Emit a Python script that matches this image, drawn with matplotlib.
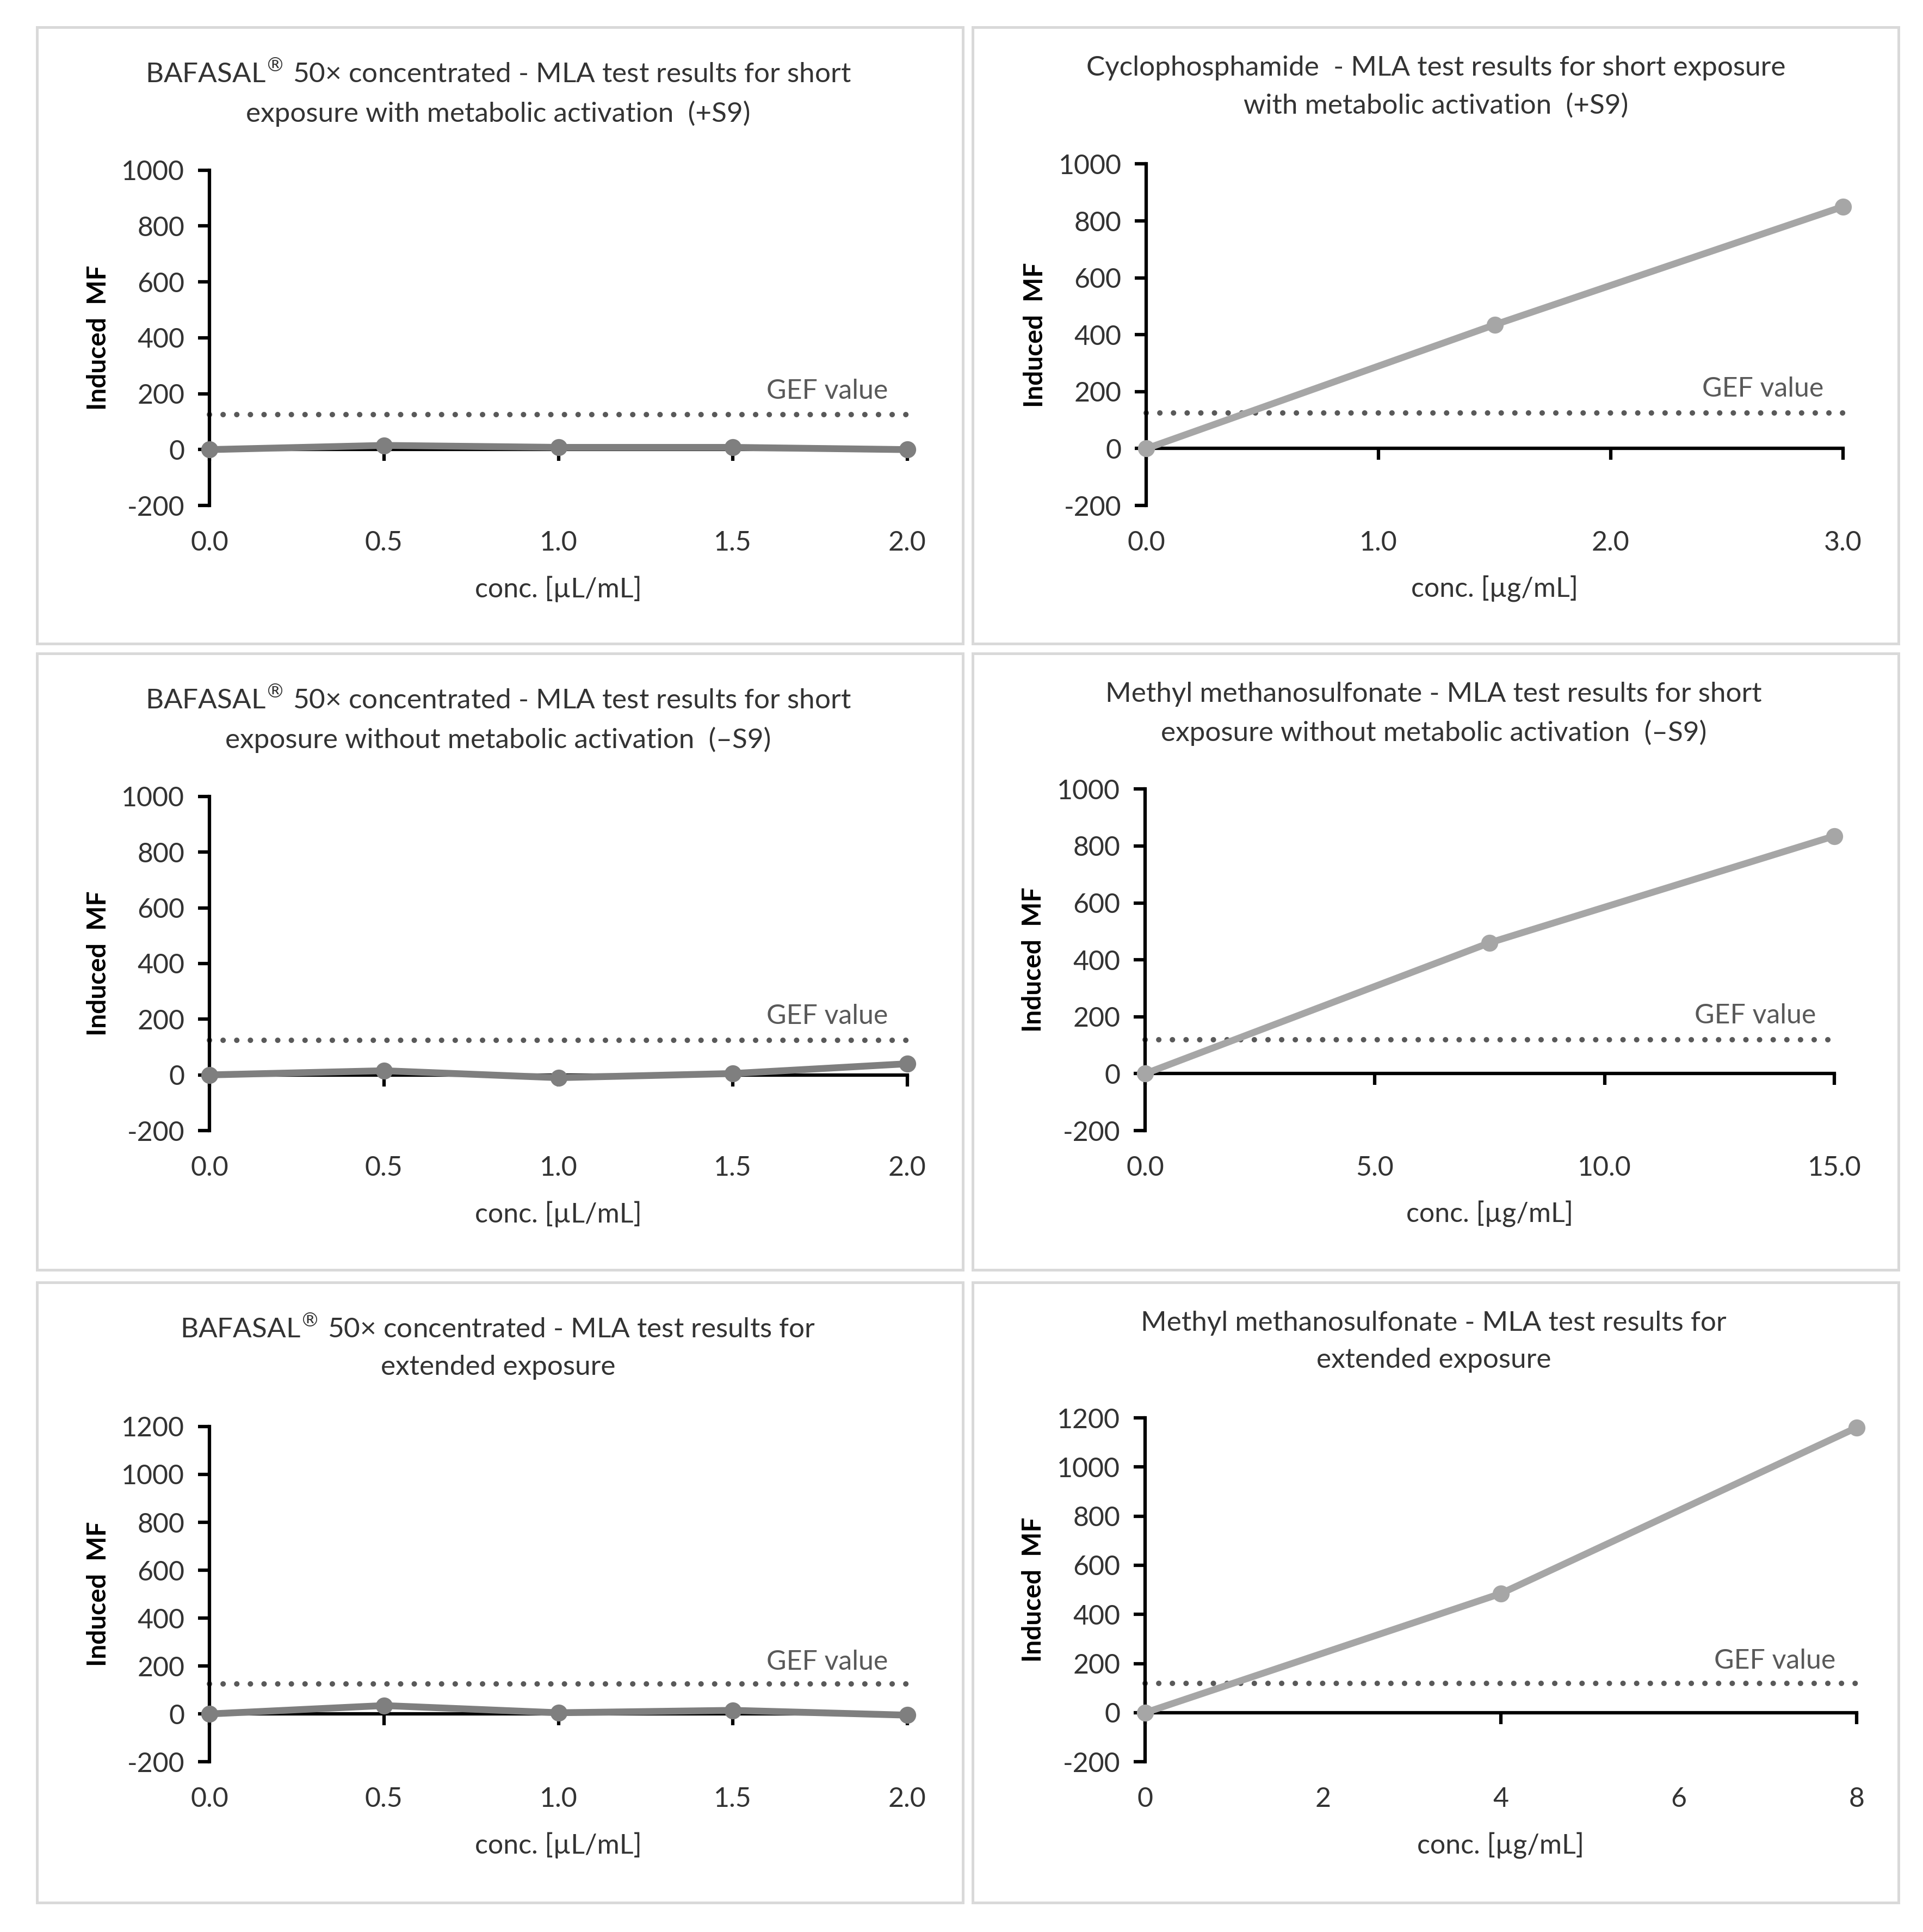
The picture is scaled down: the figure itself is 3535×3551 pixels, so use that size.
import matplotlib
matplotlib.use("Agg")
import matplotlib.pyplot as plt
from matplotlib.patches import Rectangle
from matplotlib.transforms import blended_transform_factory

plt.rcParams['font.family'] = ['Lato', 'DejaVu Sans']
plt.rcParams['axes.unicode_minus'] = False

# BAFASAL 50x concentrated, short exposure +S9
baf_s9_x = [0.0, 0.5, 1.0, 1.5, 2.0]
baf_s9_y = [0, 15, 8, 8, 0]
# Cyclophosphamide, short exposure +S9
cp_x = [0.0, 1.5, 3.0]
cp_y = [0, 435, 850]
# BAFASAL, short exposure -S9
baf_ns9_x = [0.0, 0.5, 1.0, 1.5, 2.0]
baf_ns9_y = [0, 15, -10, 5, 40]
# Methyl methanosulfonate, short exposure -S9
mms_x = [0.0, 7.5, 15.0]
mms_y = [0, 460, 835]
# BAFASAL, extended exposure
baf_ext_x = [0.0, 0.5, 1.0, 1.5, 2.0]
baf_ext_y = [0, 35, 5, 15, -5]
# Methyl methanosulfonate, extended exposure
mms_ext_x = [0, 4, 8]
mms_ext_y = [0, 485, 1160]

gef = [125, 125, 125, 120, 125, 120]

titles = [
    "BAFASAL$^{\\circledR}$ 50× concentrated - MLA test results for short\nexposure with metabolic activation  (+S9)",
    "Cyclophosphamide  - MLA test results for short exposure\nwith metabolic activation  (+S9)",
    "BAFASAL$^{\\circledR}$ 50× concentrated - MLA test results for short\nexposure without metabolic activation  (–S9)",
    "Methyl methanosulfonate - MLA test results for short\nexposure without metabolic activation  (–S9)",
    "BAFASAL$^{\\circledR}$ 50× concentrated - MLA test results for\nextended exposure",
    "Methyl methanosulfonate - MLA test results for\nextended exposure",
]
xlabels = ["conc. [µL/mL]", "conc. [µg/mL]"] * 3

xs = [baf_s9_x, cp_x, baf_ns9_x, mms_x, baf_ext_x, mms_ext_x]
ys = [baf_s9_y, cp_y, baf_ns9_y, mms_y, baf_ext_y, mms_ext_y]
xticks = [[0, 0.5, 1.0, 1.5, 2.0], [0, 1, 2, 3], [0, 0.5, 1.0, 1.5, 2.0],
          [0, 5, 10, 15], [0, 0.5, 1.0, 1.5, 2.0], [0, 2, 4, 6, 8]]
xfmt = ["{:.1f}"] * 5 + ["{:.0f}"]
ymax = [1000, 1000, 1000, 1000, 1200, 1200]
colors = ['#7f7f7f', '#a6a6a6'] * 3
txt = '#333333'

W, H = 1560, 1567
# axes rectangles in pixel coords of a 1560x1567 layout: left, top(ymax), right, bottom(-200)
ax_px = [(170, 138, 736, 410), (930, 133, 1495, 410),
         (170, 646, 736, 917), (929, 640, 1488, 917),
         (170, 1157, 736, 1429), (929, 1150, 1506, 1429)]
box_px = [(30, 22, 781, 522), (789, 22, 1540, 522),
          (30, 530, 781, 1030), (789, 530, 1540, 1030),
          (30, 1040, 781, 1543), (789, 1040, 1540, 1543)]
title_y = [62, 58, 570, 566, 1080, 1076]
title_x = [404, 1165, 404, 1163, 404, 1163]

fig = plt.figure(figsize=(3535 / 300, 3551 / 300), dpi=300)

for i in range(6):
    bl, bt, br, bb = box_px[i]
    fig.add_artist(Rectangle((bl / W, 1 - bb / H), (br - bl) / W, (bb - bt) / H,
                             transform=fig.transFigure, fill=False,
                             edgecolor='#d9d9d9', linewidth=1.2))
    l, t, r, b = ax_px[i]
    ax = fig.add_axes([l / W, 1 - b / H, (r - l) / W, (b - t) / H])
    xmax = xticks[i][-1]
    ax.set_xlim(0, xmax)
    ax.set_ylim(-200, ymax[i])
    ax.set_yticks(range(-200, ymax[i] + 1, 200))
    ax.tick_params(axis='y', labelsize=12, labelcolor=txt, length=5,
                   width=1.5, color='black', pad=6)
    for s in ['top', 'right']:
        ax.spines[s].set_visible(False)
    ax.spines['left'].set_linewidth(1.5)
    ax.spines['bottom'].set_position(('data', 0))
    ax.spines['bottom'].set_linewidth(1.5)
    ax.set_xticks(xticks[i])
    ax.tick_params(axis='x', labelbottom=False, length=5, width=1.5,
                   direction='out', color='black')
    if i == 5:
        for k in (1, 3):
            ax.xaxis.get_major_ticks()[k].tick1line.set_visible(False)
    sec = ax.secondary_xaxis(0)
    sec.spines['bottom'].set_visible(False)
    sec.set_xticks(xticks[i])
    sec.set_xticklabels([xfmt[i].format(v) for v in xticks[i]])
    sec.tick_params(length=0, labelsize=12, labelcolor=txt, pad=11)
    sec.set_xlabel(xlabels[i], fontsize=12, color=txt, labelpad=9)

    ax.set_ylabel("Induced  MF", fontsize=11.5, fontweight='bold', labelpad=5)

    ax.plot([0, xmax], [gef[i], gef[i]], color='#595959', linewidth=2.4,
            linestyle=(0, (0.01, 2.5)), dash_capstyle='round', clip_on=False)
    tr = blended_transform_factory(ax.transAxes, ax.transData)
    ax.text(0.885, gef[i] + 40, "GEF value", transform=tr, ha='center',
            va='bottom', fontsize=12, color='#595959')

    ax.plot(xs[i], ys[i], color=colors[i], linewidth=3, marker='o',
            markersize=6.5, clip_on=False, zorder=5)

    fig.text(title_x[i] / W, 1 - (title_y[i] - 13) / H, titles[i], ha='center',
             va='top', fontsize=12.3, color=txt, linespacing=1.6)

fig.savefig("out.png", dpi=300)
